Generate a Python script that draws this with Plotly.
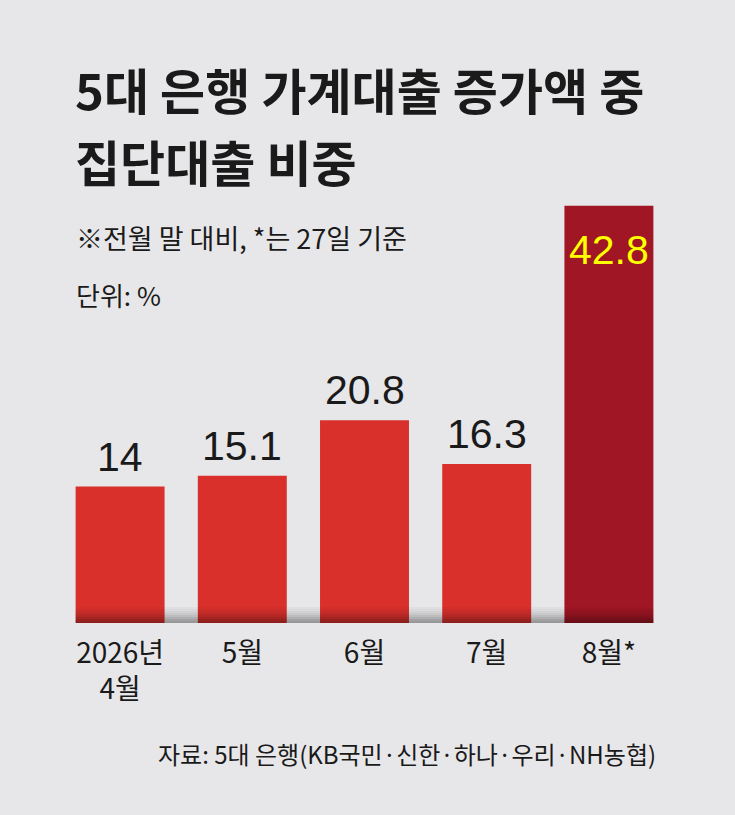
import plotly.graph_objects as go

categories = ["2026년<br>4월", "5월", "6월", "7월", "8월*"]
values = [14, 15.1, 20.8, 16.3, 42.8]
value_labels = ["14", "15.1", "20.8", "16.3", "42.8"]
bar_colors = ["#d9302c", "#d9302c", "#d9302c", "#d9302c", "#a01624"]

title_line1 = "5대 은행 가계대출 증가액 중"
title_line2 = "집단대출 비중"
subtitle = "※전월 말 대비, *는 27일 기준"
unit_text = "단위: %"
source_text = "자료: 5대 은행(KB국민·신한·하나·우리·NH농협)"

W, H = 735, 815
ML, MR, MT, MB = 59, 65, 184, 192
PW = W - ML - MR
PH = H - MT - MB
BARGAP = 0.272
YMAX = PH / 9.75

KR = "Noto Sans CJK KR, Noto Sans, sans-serif"
NUM = "Liberation Sans, Arial, sans-serif"


def px(xp):
    return (xp - ML) / PW


def py(yp):
    return (H - MB - yp) / PH


fig = go.Figure()
fig.add_trace(go.Bar(
    x=categories, y=values, marker=dict(color=bar_colors, line=dict(width=0)),
    hoverinfo="skip",
))

annotations = []
for i, (c, v, t) in enumerate(zip(categories, values, value_labels)):
    last = i == len(values) - 1
    annotations.append(dict(
        x=c, y=v, xref="x", yref="y", text=t, showarrow=False,
        yanchor="top" if last else "bottom",
        yshift=-19 if last else 5,
        font=dict(family=NUM, size=41, color="#ffff00" if last else "#1a1a1a"),
    ))

annotations += [
    dict(x=px(73), y=py(88), xref="paper", yref="paper", text=title_line1,
         showarrow=False, xanchor="left", yanchor="middle",
         font=dict(family=KR, size=49, color="#1a1a1a", weight="bold")),
    dict(x=px(73), y=py(161), xref="paper", yref="paper", text=title_line2,
         showarrow=False, xanchor="left", yanchor="middle",
         font=dict(family=KR, size=49, color="#1a1a1a", weight="bold")),
    dict(x=px(74), y=py(237), xref="paper", yref="paper", text=subtitle,
         showarrow=False, xanchor="left", yanchor="middle",
         font=dict(family=KR, size=27, color="#1a1a1a")),
    dict(x=px(74), y=py(294), xref="paper", yref="paper", text=unit_text,
         showarrow=False, xanchor="left", yanchor="middle",
         font=dict(family=KR, size=26, color="#1a1a1a")),
    dict(x=px(658), y=py(753), xref="paper", yref="paper", text=source_text,
         showarrow=False, xanchor="right", yanchor="middle",
         font=dict(family=KR, size=24, color="#1a1a1a")),
]

# shadow band at the base of the bars
edge = (BARGAP / 2) / len(categories)
shapes = []
strip_op = [0.03, 0.06, 0.09, 0.13, 0.18, 0.24, 0.30, 0.34]
for k, op in enumerate(strip_op):
    shapes.append(dict(
        type="rect", xref="paper", x0=edge, x1=1 - edge,
        yref="y", ysizemode="pixel", yanchor=0,
        y0=16 - 2 * k, y1=16 - 2 * (k + 1),
        fillcolor="black", opacity=op, line=dict(width=0), layer="above",
    ))

fig.update_layout(
    width=W, height=H,
    margin=dict(l=ML, r=MR, t=MT, b=MB, pad=0),
    paper_bgcolor="#e7e7e9", plot_bgcolor="#e7e7e9",
    bargap=BARGAP, showlegend=False,
    xaxis=dict(showgrid=False, zeroline=False, showline=False, ticks="outside",
               ticklen=5, tickcolor="rgba(0,0,0,0)",
               tickfont=dict(family=KR, size=28, color="#1a1a1a")),
    yaxis=dict(range=[0, YMAX], visible=False, showgrid=False, zeroline=False),
    annotations=annotations, shapes=shapes,
)

fig.write_html(
    "out.html",
    config={"displayModeBar": False},
    post_script="document.body.style.margin='0';document.body.style.overflow='hidden';",
)
